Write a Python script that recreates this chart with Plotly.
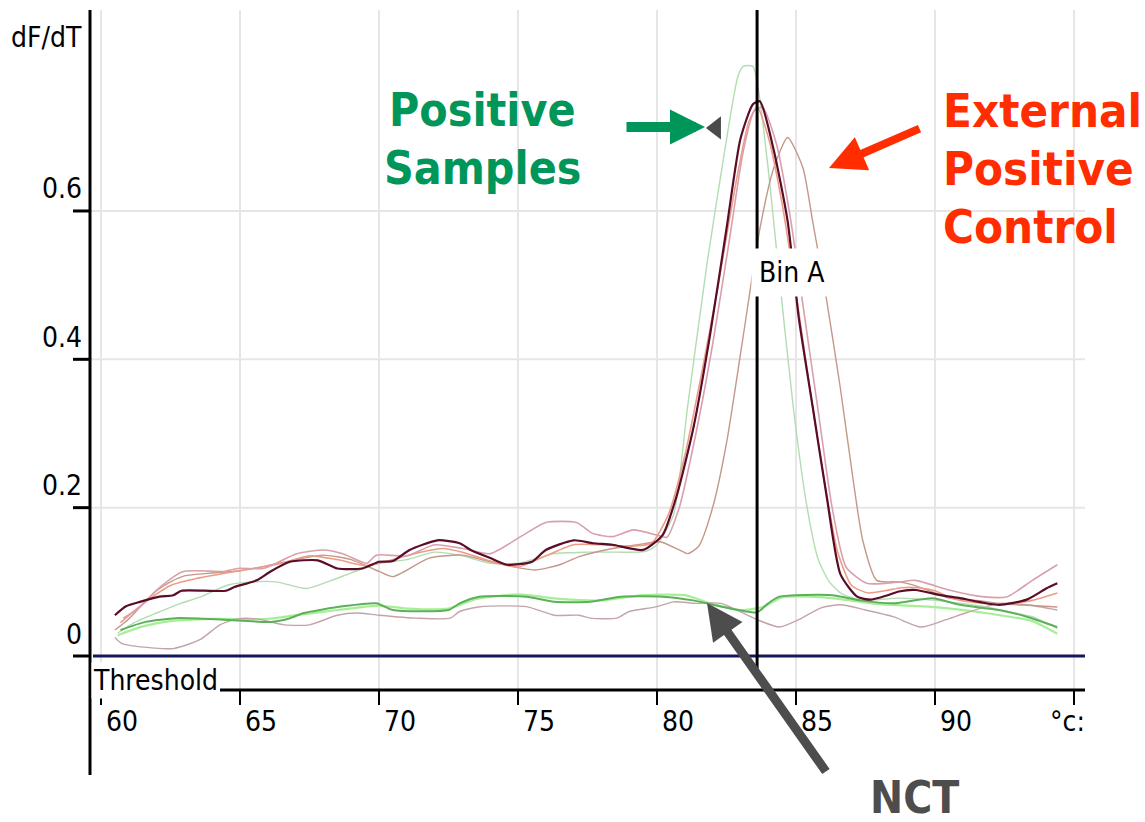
import plotly.graph_objects as go

# ---- melt-curve derivative data: temperature (°C) and dF/dT ----
pos1_t = [60.5, 60.9, 61.4, 62.1, 62.6, 62.9, 64.5, 64.8, 65.6, 66.1, 66.8, 67.8, 68.5, 69.4,
          70.0, 70.5, 71.1, 72.1, 72.9, 73.3, 74.0, 74.6, 75.5, 76.0, 77.0, 77.7, 78.4, 79.5,
          80.2, 80.7, 81.3, 81.9, 82.5, 83.0, 83.45, 83.7, 84.2, 84.7, 85.1, 85.6, 86.1, 86.6,
          87.2, 87.7, 88.3, 88.7, 89.3, 90.2, 90.9, 92.3, 93.3, 94.0, 94.4]
pos1_v = [0.055, 0.067, 0.073, 0.080, 0.082, 0.088, 0.088, 0.093, 0.102, 0.114, 0.127, 0.129,
          0.118, 0.118, 0.127, 0.128, 0.143, 0.156, 0.152, 0.143, 0.132, 0.123, 0.127, 0.143,
          0.156, 0.152, 0.150, 0.143, 0.163, 0.215, 0.306, 0.431, 0.576, 0.697, 0.744, 0.748,
          0.682, 0.586, 0.456, 0.336, 0.216, 0.110, 0.080, 0.076, 0.082, 0.087, 0.089, 0.082,
          0.078, 0.069, 0.076, 0.091, 0.098]

pos2_t = [60.6, 61.2, 62.0, 62.8, 63.6, 64.6, 65.5, 66.3, 67.4, 68.3, 69.0, 70.0, 71.0, 72.0,
          73.0, 74.0, 75.0, 76.3, 77.5, 78.5, 79.6, 80.0, 80.6, 81.1, 81.8, 82.4, 82.9, 83.1,
          83.45, 83.95, 84.35, 84.9, 85.4, 85.8, 86.2, 86.6, 87.0, 87.5, 88.7, 90.5, 91.7,
          92.6, 93.5, 94.4]
pos2_v = [0.031, 0.045, 0.058, 0.070, 0.080, 0.096, 0.100, 0.100, 0.091, 0.102, 0.112, 0.125,
          0.130, 0.140, 0.135, 0.125, 0.125, 0.138, 0.140, 0.140, 0.141, 0.150, 0.191, 0.336,
          0.529, 0.673, 0.780, 0.795, 0.795, 0.673, 0.529, 0.336, 0.200, 0.130, 0.100, 0.085,
          0.079, 0.075, 0.078, 0.073, 0.067, 0.060, 0.053, 0.037]

pos3_t = [60.8, 61.4, 62.0, 62.96, 64.4, 64.9, 65.84, 66.3, 67.04, 68.0, 68.7, 69.56, 69.9,
          71.0, 72.0, 73.0, 74.0, 75.1, 76.0, 77.1, 77.7, 78.4, 79.15, 80.0, 80.35, 80.8, 81.4,
          82.0, 82.6, 83.1, 83.5, 83.8, 84.3, 84.8, 85.3, 85.8, 86.3, 86.8, 87.54, 88.74, 89.3,
          90.5, 91.7, 92.6, 93.5, 94.4]
pos3_v = [0.051, 0.066, 0.089, 0.114, 0.114, 0.118, 0.118, 0.125, 0.138, 0.143, 0.138, 0.125,
          0.136, 0.135, 0.150, 0.145, 0.138, 0.161, 0.180, 0.180, 0.165, 0.161, 0.170, 0.163,
          0.160, 0.200, 0.300, 0.420, 0.560, 0.680, 0.735, 0.740, 0.690, 0.590, 0.460, 0.330,
          0.200, 0.120, 0.098, 0.100, 0.102, 0.089, 0.080, 0.080, 0.102, 0.123]

pos4_t = [60.7, 61.5, 62.5, 63.5, 64.5, 65.5, 66.5, 67.5, 68.5, 69.5, 70.5, 71.5, 72.3, 73.0,
          74.0, 75.0, 76.0, 77.0, 78.0, 79.0, 79.8, 80.4, 81.0, 81.6, 82.2, 82.8, 83.3, 83.6,
          84.0, 84.5, 85.0, 85.5, 86.0, 86.5, 87.0, 87.6, 88.2, 88.8, 89.4, 90.0, 90.6, 91.5,
          92.5, 93.5, 94.4]
pos4_v = [0.045, 0.070, 0.095, 0.105, 0.112, 0.118, 0.125, 0.135, 0.130, 0.122, 0.130, 0.140,
          0.145, 0.140, 0.128, 0.120, 0.135, 0.150, 0.150, 0.148, 0.152, 0.190, 0.270, 0.380,
          0.500, 0.630, 0.720, 0.740, 0.700, 0.610, 0.490, 0.360, 0.240, 0.140, 0.095, 0.085,
          0.088, 0.092, 0.092, 0.088, 0.078, 0.072, 0.070, 0.075, 0.085]

epc_t = [60.5, 61.0, 61.5, 62.0, 62.5, 63.0, 64.0, 65.0, 66.0, 67.0, 68.0, 69.0, 70.0, 70.5,
         71.8, 73.0, 74.0, 75.6, 76.5, 77.2, 78.4, 79.3, 80.1, 80.8, 81.1, 81.5, 82.0, 82.5,
         83.1, 83.7, 84.2, 84.7, 85.25, 85.6, 86.1, 86.6, 87.05, 87.4, 87.9, 88.7, 89.2, 90.0,
         90.5, 91.5, 92.5, 93.5, 94.4]
epc_v = [0.035, 0.050, 0.070, 0.088, 0.100, 0.108, 0.112, 0.115, 0.122, 0.130, 0.136, 0.130,
         0.114, 0.107, 0.132, 0.136, 0.127, 0.116, 0.123, 0.134, 0.145, 0.150, 0.154, 0.143,
         0.138, 0.148, 0.200, 0.287, 0.431, 0.576, 0.658, 0.699, 0.658, 0.586, 0.480, 0.360,
         0.239, 0.156, 0.102, 0.100, 0.096, 0.085, 0.078, 0.075, 0.070, 0.068, 0.066]

nct1_t = [60.7, 61.6, 62.7, 64.4, 66.1, 66.8, 67.3, 68.7, 69.9, 70.5, 72.5, 72.9, 73.6, 75.3,
          76.3, 77.6, 78.7, 80.2, 81.3, 82.4, 83.6, 84.0, 84.4, 86.3, 87.3, 88.5, 89.9, 90.9,
          92.3, 93.3, 94.4]
nct1_v = [0.035, 0.046, 0.051, 0.049, 0.046, 0.051, 0.058, 0.067, 0.071, 0.062, 0.062, 0.071,
          0.080, 0.080, 0.073, 0.073, 0.080, 0.080, 0.075, 0.066, 0.059, 0.071, 0.080, 0.082,
          0.075, 0.071, 0.078, 0.069, 0.062, 0.053, 0.039]

nct2_t = [60.6, 61.5, 62.5, 64.0, 66.0, 67.0, 68.5, 70.0, 71.0, 72.5, 73.5, 75.0, 76.5, 78.0,
          79.5, 81.0, 82.0, 83.0, 83.8, 84.5, 86.0, 88.0, 90.0, 92.0, 93.5, 94.4]
nct2_v = [0.028, 0.040, 0.047, 0.050, 0.050, 0.055, 0.062, 0.068, 0.064, 0.064, 0.077, 0.083,
          0.077, 0.075, 0.082, 0.082, 0.070, 0.062, 0.066, 0.079, 0.079, 0.070, 0.066, 0.057,
          0.047, 0.030]

nct3_t = [60.5, 60.74, 61.28, 62.6, 63.56, 64.28, 64.9, 65.6, 66.6, 67.5, 68.5, 69.2, 70.0,
          71.36, 72.56, 72.9, 73.64, 75.3, 76.3, 77.2, 77.6, 78.55, 79.0, 80.0, 80.6, 81.4, 82.3,
          83.6, 84.4, 85.1, 85.9, 86.6, 87.5, 88.5, 89.5, 90.4, 91.1, 92.3, 93.3, 94.4]
nct3_v = [0.025, 0.017, 0.013, 0.010, 0.022, 0.042, 0.050, 0.050, 0.042, 0.042, 0.055, 0.058,
          0.055, 0.051, 0.051, 0.060, 0.0665, 0.0665, 0.055, 0.055, 0.051, 0.051, 0.060, 0.0665,
          0.073, 0.071, 0.071, 0.049, 0.039, 0.049, 0.065, 0.069, 0.062, 0.053, 0.039, 0.049,
          0.058, 0.071, 0.069, 0.062]

# axis ticks and labels
x_ticks = [60, 65, 70, 75, 80, 85, 90, 95]
x_tick_labels = ["60", "65", "70", "75", "80", "85", "90", "°c:"]
y_ticks = [0, 0.2, 0.4, 0.6]
y_tick_labels = ["0", "0.2", "0.4", "0.6"]
grid_y = [0.2, 0.4, 0.6]

threshold_v = 0.0
bin_t = 83.6
marker_t, marker_v = 82.12, 0.712

# ---- page geometry (pixels) ----
W, H = 1145, 822
PX_PER_DEG = 27.8
X60_PX = 101.0
PX_PER_UNIT = 741.7
Y0_PX = 656.0


def tx(px):
    return 60 + (px - X60_PX) / PX_PER_DEG


def vy(py):
    return (Y0_PX - py) / PX_PER_UNIT


left_t, right_t = tx(90), tx(1085)
top_v, bottom_v = vy(10), vy(775)
xaxis_v = vy(690)

AXIS_FONT = "DejaVu Sans Condensed, Liberation Sans Narrow, Arial Narrow, sans-serif"
AXIS_SIZE = 28
BOLD_FONT = "DejaVu Sans Condensed, DejaVu Sans, Verdana, sans-serif"

fig = go.Figure()

series = [
    (nct2_t, nct2_v, "#a6ef96", 2.2),
    (nct3_t, nct3_v, "#c4a4a8", 1.4),
    (pos2_t, pos2_v, "#b2dcb2", 1.4),
    (epc_t, epc_v, "#c49888", 1.4),
    (pos4_t, pos4_v, "#ec9c84", 1.6),
    (pos3_t, pos3_v, "#d9a0ac", 1.6),
    (nct1_t, nct1_v, "#5cb05a", 2.0),
    (pos1_t, pos1_v, "#5a0c28", 2.2),
]
for t, v, c, w in series:
    fig.add_trace(go.Scatter(x=t, y=v, mode="lines",
                             line=dict(color=c, width=w, shape="spline", smoothing=0.6),
                             hoverinfo="skip", showlegend=False))

fig.add_trace(go.Scatter(x=[marker_t], y=[marker_v], mode="markers",
                         marker=dict(symbol="triangle-left", size=20, color="#4a4a4a"),
                         hoverinfo="skip", showlegend=False))

shapes = []
# grid
for t in x_ticks:
    shapes.append(dict(type="line", x0=t, x1=t, y0=xaxis_v, y1=top_v, layer="below",
                       line=dict(color="#e6e6e6", width=2)))
for v in grid_y:
    shapes.append(dict(type="line", x0=left_t, x1=right_t, y0=v, y1=v, layer="below",
                       line=dict(color="#e6e6e6", width=2)))
# threshold
shapes.append(dict(type="line", x0=tx(93), x1=right_t, y0=threshold_v, y1=threshold_v,
                   layer="above", line=dict(color="#16165a", width=3)))
# y axis
shapes.append(dict(type="line", x0=left_t, x1=left_t, y0=bottom_v, y1=top_v, layer="above",
                   line=dict(color="black", width=3)))
for v in y_ticks:
    shapes.append(dict(type="line", x0=tx(73), x1=left_t, y0=v, y1=v, layer="above",
                       line=dict(color="black", width=3)))
# x axis
shapes.append(dict(type="line", x0=tx(220), x1=right_t, y0=xaxis_v, y1=xaxis_v, layer="above",
                   line=dict(color="black", width=3)))
for t in x_ticks:
    shapes.append(dict(type="line", x0=t, x1=t, y0=xaxis_v, y1=vy(705), layer="above",
                       line=dict(color="black", width=2)))
# bin marker line
shapes.append(dict(type="line", x0=bin_t, x1=bin_t, y0=vy(670), y1=top_v, layer="above",
                   line=dict(color="black", width=3)))

ann = []
for v, lab in zip(y_ticks, y_tick_labels):
    ann.append(dict(x=tx(84), y=v, text=lab, showarrow=False, xanchor="right", yanchor="middle",
                    yshift=22, font=dict(family=AXIS_FONT, size=AXIS_SIZE, color="black")))
ann.append(dict(x=tx(84), y=vy(37), text="dF/dT", showarrow=False, xanchor="right",
                yanchor="middle", font=dict(family=AXIS_FONT, size=AXIS_SIZE, color="black")))
for t, lab in zip(x_ticks, x_tick_labels):
    shift = 3 if t < 95 else -26
    ann.append(dict(x=t, y=xaxis_v, text=lab, showarrow=False, xanchor="left", yanchor="middle",
                    xshift=shift, yshift=-31,
                    font=dict(family=AXIS_FONT, size=AXIS_SIZE, color="black")))
ann.append(dict(x=tx(91), y=vy(680), text="Threshold", showarrow=False, xanchor="left",
                yanchor="middle", bgcolor="white", borderpad=1,
                font=dict(family=AXIS_FONT, size=AXIS_SIZE, color="black")))
ann.append(dict(x=tx(751), y=vy(272), text="Bin A", showarrow=False, xanchor="left",
                yanchor="middle", bgcolor="white", borderpad=7,
                font=dict(family=AXIS_FONT, size=AXIS_SIZE, color="black")))

GREEN, RED, GREY = "#00965a", "#ff2d00", "#4d4d4d"
for txt, py in [("Positive", 110), ("Samples", 168)]:
    ann.append(dict(x=tx(482), y=vy(py), text="<b>%s</b>" % txt, showarrow=False,
                    xanchor="center", yanchor="middle",
                    font=dict(family=BOLD_FONT, size=46, color=GREEN)))
for txt, py in [("External", 110), ("Positive", 168), ("Control", 226)]:
    ann.append(dict(x=tx(941), y=vy(py), text="<b>%s</b>" % txt, showarrow=False,
                    xanchor="left", yanchor="middle",
                    font=dict(family=BOLD_FONT, size=47, color=RED)))
ann.append(dict(x=tx(914), y=vy(H), text="<b>NCT</b>", showarrow=False, xanchor="center",
                yanchor="bottom", yshift=-3,
                font=dict(family=BOLD_FONT, size=44, color=GREY)))

# pointer arrows
ann.append(dict(x=tx(705), y=vy(127), ax=-80, ay=0, text="", showarrow=True, arrowhead=2,
                arrowsize=0.7, arrowwidth=10, arrowcolor=GREEN, standoff=0))
ann.append(dict(x=tx(829), y=vy(168), ax=92, ay=-40, text="", showarrow=True, arrowhead=2,
                arrowsize=0.9, arrowwidth=8, arrowcolor=RED, standoff=0))
ann.append(dict(x=tx(707), y=vy(603), ax=120, ay=170, text="", showarrow=True, arrowhead=2,
                arrowsize=0.8, arrowwidth=9, arrowcolor=GREY, standoff=0))

fig.update_layout(
    width=W, height=H,
    margin=dict(l=0, r=0, t=0, b=0),
    paper_bgcolor="white", plot_bgcolor="white",
    xaxis=dict(range=[tx(0), tx(W)], visible=False, fixedrange=True),
    yaxis=dict(range=[vy(H), vy(0)], visible=False, fixedrange=True),
    shapes=shapes, annotations=ann, showlegend=False,
)

fig.write_html("out.html", config={"displayModeBar": False})
